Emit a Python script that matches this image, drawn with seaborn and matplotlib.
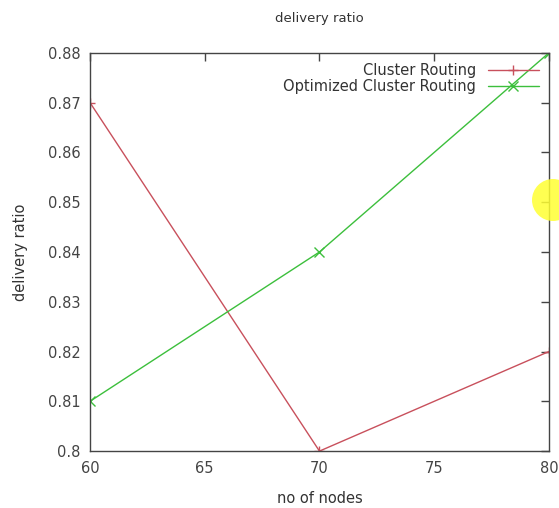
import numpy as np
import pandas as pd
import matplotlib
matplotlib.use("Agg")
import matplotlib.pyplot as plt
import seaborn as sns
from matplotlib.patches import Circle

# data
nodes = [60, 70, 80]
cluster = [0.87, 0.80, 0.82]
optimized = [0.81, 0.84, 0.88]
series_names = ["Cluster Routing", "Optimized Cluster Routing"]
x_ticks = [60, 65, 70, 75, 80]
y_ticks = [0.80, 0.81, 0.82, 0.83, 0.84, 0.85, 0.86, 0.87, 0.88]
y_tick_labels = ["0.8", "0.81", "0.82", "0.83", "0.84", "0.85", "0.86", "0.87", "0.88"]

df = pd.DataFrame({
    "nodes": nodes * 2,
    "ratio": cluster + optimized,
    "series": [series_names[0]] * 3 + [series_names[1]] * 3,
})

sns.set_style("white")
plt.rcParams["font.family"] = ["DejaVu Sans"]

fig = plt.figure(figsize=(5.59, 5.08), dpi=100)
ax = fig.add_axes([0.161, 0.112, 0.821, 0.784])

colors = {series_names[0]: "#c8505c", series_names[1]: "#3cbf3c"}
markers = {series_names[0]: "+", series_names[1]: "x"}

for name in series_names:
    sub = df[df["series"] == name]
    sns.lineplot(data=sub, x="nodes", y="ratio", ax=ax, color=colors[name],
                 marker=markers[name], markersize=7, markeredgewidth=1,
                 markeredgecolor=colors[name], linewidth=1, label=name)

ax.set_xlim(60, 80)
ax.set_ylim(0.80, 0.88)
ax.set_xticks(x_ticks)
ax.set_xticklabels([str(t) for t in x_ticks])
ax.set_yticks(y_ticks)
ax.set_yticklabels(y_tick_labels)
ax.tick_params(direction="in", top=True, right=True, length=6, width=1,
               color="#444444", labelcolor="#444444", labelsize=10.5, pad=7)
for s in ax.spines.values():
    s.set_color("#444444")
    s.set_linewidth(1)

ax.set_title("delivery ratio", fontsize=9.5, color="#333333", pad=22)
ax.set_xlabel("no of nodes", fontsize=10.5, color="#333333", labelpad=11)
ax.set_ylabel("delivery ratio", fontsize=10.5, color="#333333", labelpad=14)

leg = ax.legend(loc="upper right", frameon=False, markerfirst=False,
                handlelength=3.5, fontsize=10.5, borderaxespad=0.3,
                labelspacing=0.1, handletextpad=0.8)
for t in leg.get_texts():
    t.set_color("#333333")

# yellow cursor highlight at the right edge
fig.patches.append(Circle((553, 308), 21, transform=None, facecolor="#ffff33",
                          edgecolor="none", alpha=0.85, zorder=10))

fig.savefig("out.png", dpi=100)
